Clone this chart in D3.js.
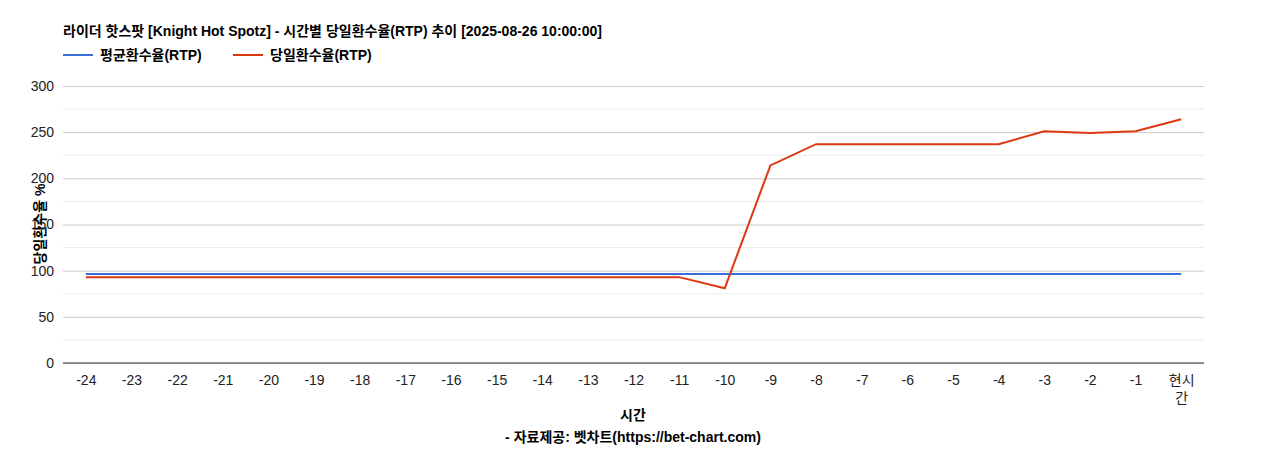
<!DOCTYPE html><html><head><meta charset="utf-8"><script src="https://cdn.jsdelivr.net/npm/d3@7"></script>
<style>body{margin:0;background:#fff}text{font-family:"Liberation Sans","Noto Sans CJK KR",sans-serif}</style></head><body><svg id="c" width="1268" height="450"></svg><script>
const categories=["-24","-23","-22","-21","-20","-19","-18","-17","-16","-15","-14","-13","-12","-11","-10","-9","-8","-7","-6","-5","-4","-3","-2","-1","현시간"];
const avgRTP=[96.5,96.5,96.5,96.5,96.5,96.5,96.5,96.5,96.5,96.5,96.5,96.5,96.5,96.5,96.5,96.5,96.5,96.5,96.5,96.5,96.5,96.5,96.5,96.5,96.5];
const dayRTP=[93,93,93,93,93,93,93,93,93,93,93,93,93,93,81,214,237,237,237,237,237,251,249,251,264];
const yTicks=[0,50,100,150,200,250,300];
const svg=d3.select("#c");
const L=63,R=1204,T=86,B=363;
const x=d3.scalePoint().domain(categories).range([L,R]).padding(0.5);
const y=d3.scaleLinear().domain([0,300]).range([B,T]);
for(let v=25;v<300;v+=50)svg.append("line").attr("x1",L).attr("x2",R).attr("y1",y(v)).attr("y2",y(v)).attr("stroke","#ebebeb");
svg.append("g").attr("transform",`translate(${L},0)`).call(d3.axisLeft(y).tickValues(yTicks).tickSize(-(R-L)).tickPadding(9))
 .call(g=>{g.select(".domain").remove();g.selectAll("line").attr("stroke","#ccc");g.selectAll("text").attr("font-size",14).attr("fill","#222");});
svg.append("line").attr("x1",L).attr("x2",R).attr("y1",B).attr("y2",B).attr("stroke","#333");
const xa=svg.append("g").attr("transform",`translate(0,${B})`).call(d3.axisBottom(x).tickSize(0).tickPadding(12));
xa.select(".domain").remove();
xa.selectAll("text").attr("font-size",14).attr("fill","#222").each(function(d){if(d==="현시간"){const t=d3.select(this);t.text(null);t.append("tspan").attr("x",0).attr("dy","0.71em").text("현시");t.append("tspan").attr("x",0).attr("dy","1.3em").text("간");}});
const line=d3.line().x((d,i)=>x(categories[i])).y(d=>y(d));
svg.append("path").datum(avgRTP).attr("d",line).attr("fill","none").attr("stroke","#3a6fd8").attr("stroke-width",2);
svg.append("path").datum(dayRTP).attr("d",line).attr("fill","none").attr("stroke","#dc3912").attr("stroke-width",2);
svg.append("text").attr("x",63).attr("y",36).attr("font-size",14).attr("font-weight","bold").text("라이더 핫스팟 [Knight Hot Spotz] - 시간별 당일환수율(RTP) 추이 [2025-08-26 10:00:00]");
[["평균환수율(RTP)","#3a6fd8",63],["당일환수율(RTP)","#dc3912",233]].forEach(([t,c,lx])=>{
 svg.append("line").attr("x1",lx).attr("x2",lx+30).attr("y1",55).attr("y2",55).attr("stroke",c).attr("stroke-width",2);
 svg.append("text").attr("x",lx+37).attr("y",60).attr("font-size",14).attr("font-weight","bold").text(t);});
svg.append("text").attr("x",633).attr("y",420).attr("text-anchor","middle").attr("font-size",14).attr("font-weight","bold").text("시간");
svg.append("text").attr("x",633).attr("y",442).attr("text-anchor","middle").attr("font-size",14).attr("font-weight","bold").text("- 자료제공: 벳차트(https://bet-chart.com)");
svg.append("text").attr("transform","translate(45,224) rotate(-90)").attr("text-anchor","middle").attr("font-size",14).attr("font-weight","bold").text("당일환수율 %");
</script></body></html>
